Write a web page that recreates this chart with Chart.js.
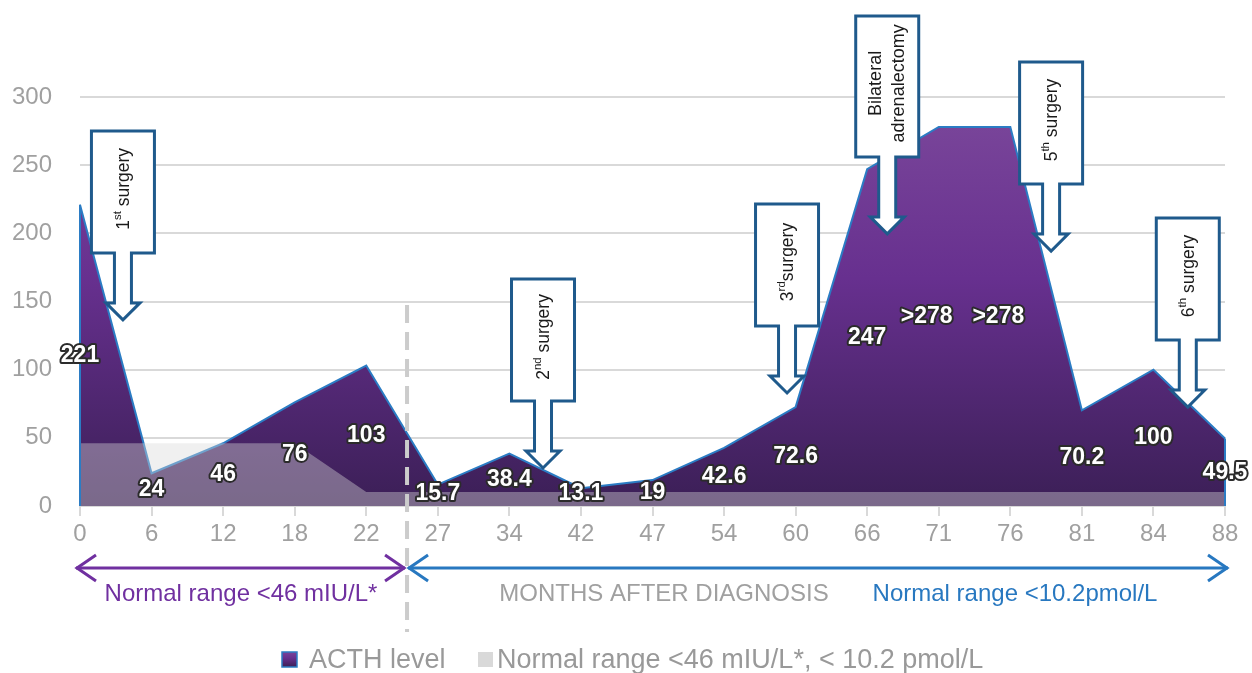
<!DOCTYPE html>
<html><head><meta charset="utf-8">
<script src="https://cdn.jsdelivr.net/npm/chart.js@4.4.1/dist/chart.umd.min.js"></script>
<style>html,body{margin:0;padding:0;background:#fff}</style>
</head><body>
<canvas id="c" width="1252" height="673"></canvas>
<script>
// ---- data ----
const months = ['0','6','12','18','22','27','34','42','47','54','60','66','71','76','81','84','88'];
const acth = [221,24,46,76,103,15.7,38.4,13.1,19,42.6,72.6,247,278,278,70.2,100,49.5];
const acthLabels = ['221','24','46','76','103','15.7','38.4','13.1','19','42.6','72.6','247','>278','>278','70.2','100','49.5'];
const normalRange = [46,46,46,46,10.2,10.2,10.2,10.2,10.2,10.2,10.2,10.2,10.2,10.2,10.2,10.2,10.2];
const yTicks = [0,50,100,150,200,250,300];
// events (arrow tip in data units: category index, ACTH value)
const eventIndex = [0.6, 6.47, 9.88, 11.28, 13.57, 15.48];
const eventValue = [136.5, 27.9, 82.9, 199.6, 187, 72.6];
const eventText = [
  {base:'1', sup:'st', rest:' surgery'},
  {base:'2', sup:'nd', rest:' surgery'},
  {base:'3', sup:'rd', rest:'surgery'},
  {lines:['Bilateral','adrenalectomy']},
  {base:'5', sup:'th', rest:' surgery'},
  {base:'6', sup:'th', rest:' surgery'}
];
const unitChangeIndex = 4.57;

const FONT = "'Liberation Sans', Arial, sans-serif";
const PURPLE = '#7030a0', BLUE = '#2878c0', LINEBLUE = '#2b7cc4', CALLOUT = '#1f5a8c';

function purpleGrad(ctx, top, bottom) {
  const g = ctx.createLinearGradient(0, top, 0, bottom);
  g.addColorStop(0, '#784499');
  g.addColorStop(0.4, '#67308f');
  g.addColorStop(1, '#3b1f56');
  return g;
}

const overlay = {
  id: 'overlay',
  afterDatasetsDraw(chart) {
    const ctx = chart.ctx, xs = chart.scales.x, ys = chart.scales.y;
    const base = ys.getPixelForValue(0);
    ctx.save();
    // vertical edges of ACTH area
    ctx.strokeStyle = LINEBLUE; ctx.lineWidth = 2;
    [0, acth.length - 1].forEach(i => {
      const x = xs.getPixelForValue(i);
      ctx.beginPath(); ctx.moveTo(x, ys.getPixelForValue(acth[i])); ctx.lineTo(x, base); ctx.stroke();
    });
    // data labels
    ctx.font = 'bold 23px ' + FONT;
    ctx.textAlign = 'center'; ctx.textBaseline = 'middle';
    ctx.lineJoin = 'round';
    acth.forEach((v, i) => {
      let x = xs.getPixelForValue(i);
      if (acthLabels[i].startsWith('>')) x -= 12;
      const y = Math.min(ys.getPixelForValue(v / 2), base - 12);
      ctx.lineWidth = 4; ctx.strokeStyle = '#2b2b2b';
      ctx.strokeText(acthLabels[i], x, y);
      ctx.fillStyle = '#ffffff';
      ctx.fillText(acthLabels[i], x, y);
    });
    // dashed divider
    const dx = xs.getPixelForValue(unitChangeIndex);
    ctx.setLineDash([18, 9]); ctx.strokeStyle = '#cccccc'; ctx.lineWidth = 4;
    ctx.beginPath(); ctx.moveTo(dx, 305); ctx.lineTo(dx, 632); ctx.stroke();
    ctx.setLineDash([]);
    // callouts
    eventIndex.forEach((ei, k) => {
      const tx = xs.getPixelForValue(ei), ty = ys.getPixelForValue(eventValue[k]);
      const big = !!eventText[k].lines;
      const headH = 17, headW = 17, shaftW = 8.5, shaftL = big ? 60 : 50;
      const boxW = 63, boxH = big ? 141 : 122;
      const headY = ty - headH, boxB = headY - shaftL, boxT = boxB - boxH;
      ctx.beginPath();
      ctx.moveTo(tx - boxW / 2, boxT); ctx.lineTo(tx + boxW / 2, boxT);
      ctx.lineTo(tx + boxW / 2, boxB); ctx.lineTo(tx + shaftW, boxB);
      ctx.lineTo(tx + shaftW, headY); ctx.lineTo(tx + headW, headY);
      ctx.lineTo(tx, ty); ctx.lineTo(tx - headW, headY);
      ctx.lineTo(tx - shaftW, headY); ctx.lineTo(tx - shaftW, boxB);
      ctx.lineTo(tx - boxW / 2, boxB); ctx.closePath();
      ctx.fillStyle = '#ffffff'; ctx.fill();
      ctx.strokeStyle = CALLOUT; ctx.lineWidth = 3; ctx.lineJoin = 'miter'; ctx.stroke();
      // text
      ctx.save();
      ctx.translate(tx, (boxT + boxB) / 2 - 3);
      ctx.rotate(-Math.PI / 2);
      ctx.fillStyle = '#1a1a1a'; ctx.textBaseline = 'middle';
      const t = eventText[k];
      if (t.lines) {
        ctx.font = '18px ' + FONT; ctx.textAlign = 'center';
        ctx.fillText(t.lines[0], 0, -11);
        ctx.fillText(t.lines[1], 0, 12);
      } else {
        ctx.textAlign = 'left';
        ctx.font = '17.5px ' + FONT;
        const wb = ctx.measureText(t.base).width, wr = ctx.measureText(t.rest).width;
        ctx.font = '11.5px ' + FONT;
        const ws = ctx.measureText(t.sup).width;
        let x0 = -(wb + ws + wr) / 2;
        ctx.font = '17.5px ' + FONT; ctx.fillText(t.base, x0, 1);
        ctx.font = '11.5px ' + FONT; ctx.fillText(t.sup, x0 + wb, -5);
        ctx.font = '17.5px ' + FONT; ctx.fillText(t.rest, x0 + wb + ws, 1);
      }
      ctx.restore();
    });
    // bottom range arrows
    const ay = 568;
    function arrowLine(x1, x2, col, headL, headR) {
      ctx.strokeStyle = col; ctx.lineWidth = 3; ctx.lineJoin = 'miter'; ctx.lineCap = 'butt';
      ctx.beginPath(); ctx.moveTo(x1, ay); ctx.lineTo(x2, ay); ctx.stroke();
      if (headL) { ctx.beginPath(); ctx.moveTo(x1 + 20, ay - 13); ctx.lineTo(x1 + 1, ay); ctx.lineTo(x1 + 20, ay + 13); ctx.stroke(); }
      if (headR) { ctx.beginPath(); ctx.moveTo(x2 - 20, ay - 13); ctx.lineTo(x2 - 1, ay); ctx.lineTo(x2 - 20, ay + 13); ctx.stroke(); }
    }
    arrowLine(xs.left - 4, dx - 2, PURPLE, true, true);
    arrowLine(dx + 1, xs.right + 3, BLUE, true, true);
    ctx.font = '24px ' + FONT; ctx.textAlign = 'center'; ctx.textBaseline = 'middle';
    ctx.fillStyle = PURPLE; ctx.fillText('Normal range <46 mIU/L*', 241, 594);
    ctx.fillStyle = '#a0a0a0'; ctx.fillText('MONTHS AFTER DIAGNOSIS', 664, 594);
    ctx.fillStyle = BLUE; ctx.fillText('Normal range <10.2pmol/L', 1015, 594);
    // legend
    ctx.fillStyle = purpleGrad(ctx, 652, 667);
    ctx.fillRect(282, 652, 15, 15);
    ctx.strokeStyle = LINEBLUE; ctx.lineWidth = 1.5; ctx.strokeRect(282, 652, 15, 15);
    ctx.fillStyle = '#d9d9d9'; ctx.fillRect(478, 652, 15, 15);
    ctx.font = '27px ' + FONT; ctx.textAlign = 'left'; ctx.fillStyle = '#999999';
    ctx.fillText('ACTH level', 309, 661);
    ctx.fillText('Normal range <46 mIU/L*, < 10.2 pmol/L', 497, 661);
    ctx.restore();
  }
};

new Chart(document.getElementById('c'), {
  type: 'line',
  data: {
    labels: months,
    datasets: [
      {
        label: 'ACTH level', data: acth, order: 2,
        fill: 'origin', tension: 0, pointRadius: 0,
        borderColor: LINEBLUE, borderWidth: 2,
        backgroundColor(c) {
          const a = c.chart.chartArea;
          if (!a) return '#5a2a85';
          return purpleGrad(c.chart.ctx, a.top + 30, a.bottom);
        }
      },
      {
        label: 'Normal range <46 mIU/L*, < 10.2 pmol/L', data: normalRange, order: 1,
        fill: 'origin', tension: 0, pointRadius: 0, borderWidth: 0,
        borderColor: 'rgba(0,0,0,0)', backgroundColor: 'rgba(217,217,217,0.4)'
      }
    ]
  },
  options: {
    responsive: false, animation: false,
    layout: { padding: { top: 97, right: 27, left: 0, bottom: 0 } },
    plugins: { legend: { display: false }, tooltip: { enabled: false } },
    scales: {
      x: {
        offset: false,
        grid: { drawOnChartArea: false, drawTicks: true, tickLength: 10, color: '#d9d9d9', lineWidth: 2 },
        border: { display: true, color: '#d9d9d9', width: 2 },
        ticks: { color: '#a0a0a0', font: { size: 24, family: FONT }, padding: 4, maxRotation: 0, autoSkip: false },
        afterFit(s) { s.height = 167; }
      },
      y: {
        min: 0, max: 300,
        afterBuildTicks(s) { s.ticks = yTicks.map(v => ({ value: v })); },
        grid: { color: '#d9d9d9', lineWidth: 2, drawTicks: false },
        border: { display: false },
        ticks: { color: '#a0a0a0', font: { size: 24, family: FONT }, padding: 28 },
        afterFit(s) { s.width = 80; }
      }
    }
  },
  plugins: [overlay]
});
</script>
</body></html>
